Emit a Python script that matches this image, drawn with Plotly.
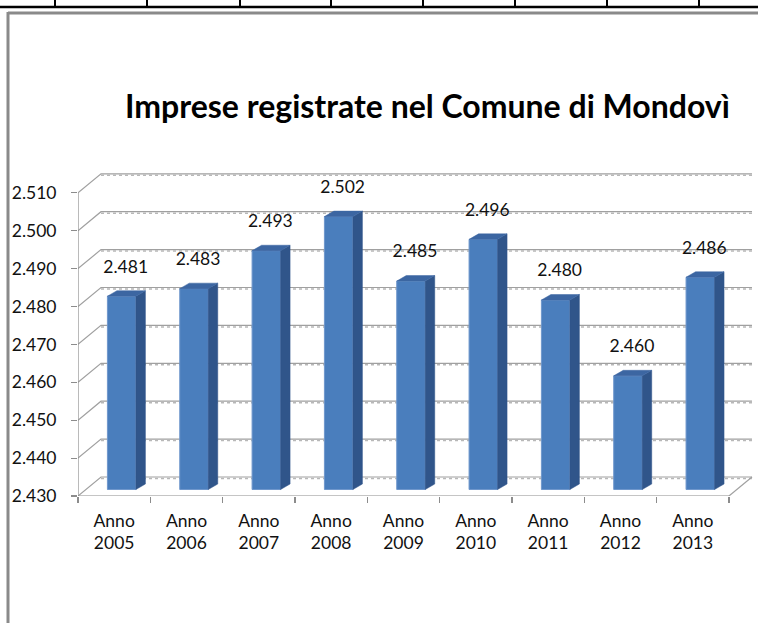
import plotly.graph_objects as go

# ---------------- data ----------------
categories = ["Anno<br>2005", "Anno<br>2006", "Anno<br>2007", "Anno<br>2008", "Anno<br>2009",
              "Anno<br>2010", "Anno<br>2011", "Anno<br>2012", "Anno<br>2013"]
values = [2481, 2483, 2493, 2502, 2485, 2496, 2480, 2460, 2486]
y_ticks = [2430, 2440, 2450, 2460, 2470, 2480, 2490, 2500, 2510]
title_text = "Imprese registrate nel Comune di Mondovì"

# ---------------- geometry ----------------
W, H = 758, 623
L, R, T, B = 78, 0, 160, 127
PX_X = 72.33          # pixels per category
PX_Y = 3.79           # pixels per value unit
y_base = y_ticks[0]
n = len(categories)
x_lo = -0.5
x_range = [x_lo, x_lo + (W - L - R) / PX_X]
y_range = [y_base, y_base + (H - T - B) / PX_Y]

# 3D offsets (in data units)
back_dx, back_dy = 23 / PX_X, 19 / PX_Y      # back wall
bar_dx, bar_dy = 7.5 / PX_X, 6.5 / PX_Y      # depth of bar front face
bar_w = 28.5 / PX_X
side_dx, side_dy = 9.5 / PX_X, 5.5 / PX_Y    # bar depth
label_dy = 28 / PX_Y

FONT = "Lato"
GRAY = "#8c8c8c"

def fmt(v):
    return f"{v:,}".replace(",", ".")

def pxp(x):
    return (x - L) / (W - L - R)

def pyp(y):
    return (H - B - y) / (H - T - B)

fig = go.Figure()

# front faces
xs = [i + bar_dx for i in range(n)]
fig.add_trace(go.Bar(
    x=xs, y=[v - y_base for v in values], base=y_base + bar_dy, width=bar_w,
    marker=dict(color="#4a7ebd", line=dict(color="#6f97cc", width=1)),
    hoverinfo="skip", showlegend=False))

# side faces and top faces
sx, sy, tx, ty = [], [], [], []
for i, v in enumerate(values):
    xl = xs[i] - bar_w / 2
    xr = xs[i] + bar_w / 2
    bot = y_base + bar_dy
    top = v + bar_dy
    sx += [xr, xr + side_dx, xr + side_dx, xr, xr, None]
    sy += [bot, bot + side_dy, top + side_dy, top, bot, None]
    tx += [xl, xr, xr + side_dx, xl + side_dx, xl, None]
    ty += [top, top, top + side_dy, top + side_dy, top, None]
fig.add_trace(go.Scatter(x=sx, y=sy, fill="toself", fillcolor="#30558a", mode="lines",
                         line=dict(color="#30558a", width=0.5), hoverinfo="skip", showlegend=False))
fig.add_trace(go.Scatter(x=tx, y=ty, fill="toself", fillcolor="#3c66a2", mode="lines",
                         line=dict(color="#3c66a2", width=0.5), hoverinfo="skip", showlegend=False))

# value labels
fig.add_trace(go.Scatter(
    x=[x + 4 / PX_X for x in xs], y=[v + bar_dy + label_dy for v in values],
    mode="text", text=[fmt(v) for v in values], textposition="middle center",
    textfont=dict(family=FONT, size=17.5, color="#111111"),
    hoverinfo="skip", showlegend=False))

shapes = []
x_hi = x_lo + n
# back wall gridlines with side diagonals
for v in y_ticks:
    shapes.append(dict(type="path", xref="x", yref="y", layer="below",
                       path=f"M{x_lo},{v} L{x_lo + back_dx},{v + back_dy} L{x_hi + back_dx},{v + back_dy}",
                       line=dict(color="#a0a0a0", width=1.2)))
    shapes.append(dict(type="line", xref="x", yref="y", layer="below",
                       x0=x_lo + back_dx, x1=x_hi + back_dx,
                       y0=v + back_dy - 1.5 / PX_Y, y1=v + back_dy - 1.5 / PX_Y,
                       line=dict(color="#b8b8b8", width=1.5, dash="dot")))
# floor right diagonal
shapes.append(dict(type="line", xref="x", yref="y", layer="below",
                   x0=x_hi, y0=y_base, x1=x_hi + back_dx, y1=y_base + back_dy,
                   line=dict(color="#a0a0a0", width=1.2)))
# front axis lines
shapes.append(dict(type="line", xref="x", yref="y", x0=x_lo, x1=x_hi, y0=y_base, y1=y_base,
                   line=dict(color=GRAY, width=1.2)))
shapes.append(dict(type="line", xref="x", yref="y", x0=x_lo, x1=x_lo, y0=y_base, y1=y_ticks[-1],
                   line=dict(color=GRAY, width=1.2)))

# page decoration: table line and chart border
shapes.append(dict(type="line", xref="paper", yref="paper", x0=pxp(0), x1=pxp(W), y0=pyp(7), y1=pyp(7),
                   line=dict(color="black", width=2.5)))
for tx_ in [55, 147, 240, 331, 423, 515, 607, 699]:
    shapes.append(dict(type="line", xref="paper", yref="paper", x0=pxp(tx_), x1=pxp(tx_),
                       y0=pyp(0), y1=pyp(7), line=dict(color="black", width=2)))
shapes.append(dict(type="line", xref="paper", yref="paper", x0=pxp(8), x1=pxp(W), y0=pyp(13), y1=pyp(13),
                   line=dict(color="#8a8a8a", width=3)))
shapes.append(dict(type="line", xref="paper", yref="paper", x0=pxp(8), x1=pxp(8), y0=pyp(12), y1=pyp(H),
                   line=dict(color="#8a8a8a", width=3)))

fig.update_layout(
    width=W, height=H,
    margin=dict(l=L, r=R, t=T, b=B, pad=0),
    paper_bgcolor="white", plot_bgcolor="white",
    separators=",.",
    shapes=shapes,
    bargap=0,
    font=dict(family=FONT, size=17.5, color="#111111"),
    annotations=[dict(text=f"<b>{title_text}</b>", xref="paper", yref="paper",
                      x=pxp(428), y=pyp(106), xanchor="center", yanchor="middle",
                      showarrow=False, font=dict(family=FONT, size=32, color="black"))],
    xaxis=dict(range=x_range, tickvals=list(range(n)), ticktext=categories, ticks="",
               showgrid=False, zeroline=False, showline=False, fixedrange=True,
               ticklabelstandoff=12,
               minor=dict(tickvals=[i - 0.5 for i in range(n + 1)], ticks="outside",
                          ticklen=6, tickcolor=GRAY, tickwidth=1.2, showgrid=False),
               tickfont=dict(family=FONT, size=17.5, color="#111111")),
    yaxis=dict(range=y_range, tickvals=y_ticks, tickformat=",", ticks="outside", ticklen=6,
               tickcolor=GRAY, tickwidth=1.2, showgrid=False, zeroline=False, showline=False,
               ticklabelstandoff=11, fixedrange=True,
               tickfont=dict(family=FONT, size=17.5, color="#111111")),
)

fig.write_html("out.html", config={"staticPlot": True},
               post_script="document.body.style.margin='0';document.body.style.overflow='hidden';")
